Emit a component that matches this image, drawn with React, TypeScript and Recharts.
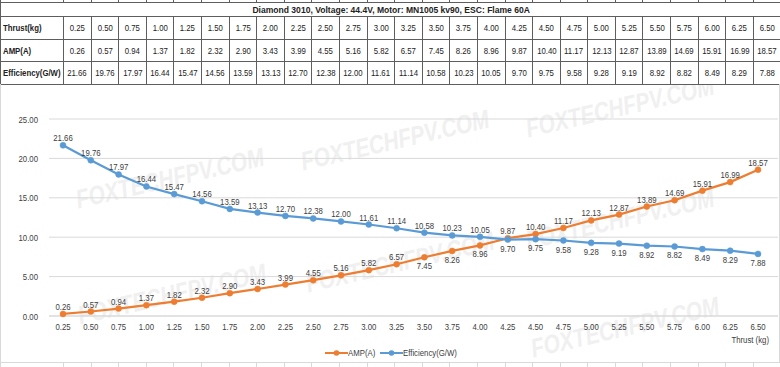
import React from 'react';
import {
  LineChart,
  Line,
  XAxis,
  YAxis,
  CartesianGrid,
  Legend,
  LabelList,
  Label,
} from 'recharts';

const TITLE = 'Diamond 3010, Voltage: 44.4V,  Motor: MN1005 kv90, ESC: Flame 60A';
const THRUST = ['0.25', '0.50', '0.75', '1.00', '1.25', '1.50', '1.75', '2.00', '2.25', '2.50', '2.75', '3.00', '3.25', '3.50', '3.75', '4.00', '4.25', '4.50', '4.75', '5.00', '5.25', '5.50', '5.75', '6.00', '6.25', '6.50'];
const AMP = [0.26, 0.57, 0.94, 1.37, 1.82, 2.32, 2.9, 3.43, 3.99, 4.55, 5.16, 5.82, 6.57, 7.45, 8.26, 8.96, 9.87, 10.4, 11.17, 12.13, 12.87, 13.89, 14.69, 15.91, 16.99, 18.57];
const EFFICIENCY = [21.66, 19.76, 17.97, 16.44, 15.47, 14.56, 13.59, 13.13, 12.7, 12.38, 12.0, 11.61, 11.14, 10.58, 10.23, 10.05, 9.7, 9.75, 9.58, 9.28, 9.19, 8.92, 8.82, 8.49, 8.29, 7.88];
const Y_TICKS = [0, 5, 10, 15, 20, 25];
const WATERMARK = 'FOXTECHFPV.COM';

// labels Excel pushed under the marker
const AMP_BELOW = [13, 14, 15];
const EFF_BELOW_FROM = 16;

const ORANGE = '#ed7d31';
const BLUE = '#5b9bd5';
const GRID = '#d9d9d9';
const TEXT = '#404040';
const BORDER = '#5e5e5e';
const FONT = "'Liberation Sans', Arial, sans-serif";
const SQUEEZE = 0.82; // the reference is horizontally squashed

// watermark centres, page px
const MARKS = [
  [170, 178],
  [395, 140],
  [620, 107],
  [172, 294],
  [400, 262],
  [620, 219],
  [625, 327],
];

const rows = THRUST.map((t, i) => ({ thrust: t, amp: AMP[i], eff: EFFICIENCY[i] }));

const NarrowText = ({ x, y, anchor, children, size = 9.5 }: any) => (
  <text
    transform={`translate(${x},${y}) scale(${SQUEEZE},1)`}
    textAnchor={anchor}
    fontSize={size}
    fontFamily={FONT}
    fill={TEXT}
  >
    {children}
  </text>
);

const makeLabel = (below: (i: number) => boolean) => (props: any) => {
  const { x, y, value, index } = props;
  return (
    <NarrowText x={x} y={below(index) ? y + 12 : y - 4} anchor="middle">
      {Number(value).toFixed(2)}
    </NarrowText>
  );
};

const XTick = (props: any) => {
  const { x, y, payload } = props;
  return (
    <NarrowText x={x} y={y + 6} anchor="middle">
      {payload.value}
    </NarrowText>
  );
};

const YTick = (props: any) => {
  const { x, y, payload } = props;
  return (
    <NarrowText x={x - 3} y={y + 3.5} anchor="end">
      {Number(payload.value).toFixed(2)}
    </NarrowText>
  );
};

const LegendContent = () => {
  const items = [
    { name: 'AMP(A)', color: ORANGE },
    { name: 'Efficiency(G/W)', color: BLUE },
  ];
  return (
    <div style={{ display: 'flex', justifyContent: 'center', gap: 4, paddingTop: 5, paddingLeft: 2, fontFamily: FONT, fontSize: 9.5, color: TEXT }}>
      {items.map((it) => (
        <span key={it.name} style={{ display: 'flex', alignItems: 'center' }}>
          <svg width={23} height={8}>
            <line x1={0} y1={4} x2={23} y2={4} stroke={it.color} strokeWidth={2} />
            <circle cx={11.5} cy={4} r={2.8} fill={it.color} />
          </svg>
          <span style={{ display: 'inline-block', transform: `scaleX(${SQUEEZE})`, transformOrigin: 'left center', marginRight: -it.name.length * 0.9 }}>
            {it.name}
          </span>
        </span>
      ))}
    </div>
  );
};

const Narrow = ({ children, origin = 'center', scale = SQUEEZE }: any) => (
  <span style={{ display: 'inline-block', transform: `scaleX(${scale})`, transformOrigin: `${origin} center`, whiteSpace: 'nowrap' }}>
    {children}
  </span>
);

const cell: React.CSSProperties = {
  border: `1px solid ${BORDER}`,
  padding: 0,
  textAlign: 'center',
  overflow: 'hidden',
  whiteSpace: 'nowrap',
};
const head: React.CSSProperties = { ...cell, textAlign: 'left', fontWeight: 'bold', paddingLeft: 2 };

const tableRows: [string, string[]][] = [
  ['Thrust(kg)', THRUST],
  ['AMP(A)', AMP.map((v) => v.toFixed(2))],
  ['Efficiency(G/W)', EFFICIENCY.map((v) => v.toFixed(2))],
];

export default function App() {
  return (
    <div style={{ position: 'relative', width: 780, height: 367, overflow: 'hidden', background: '#fff', fontFamily: FONT }}>
      <style>{'body{margin:0}'}</style>

      {MARKS.map(([cx, cy], i) => (
        <div
          key={i}
          style={{
            position: 'absolute',
            left: cx - 140,
            top: cy - 14,
            width: 280,
            textAlign: 'center',
            fontSize: 26,
            lineHeight: '28px',
            fontWeight: 'bold',
            fontStyle: 'italic',
            color: '#f0f0f0',
            transform: 'rotate(-13deg) scaleX(0.8)',
            whiteSpace: 'nowrap',
          }}
        >
          {WATERMARK}
        </div>
      ))}

      <table
        style={{
          borderCollapse: 'collapse',
          tableLayout: 'fixed',
          width: 781,
          fontSize: 9.5,
          color: '#222',
          position: 'absolute',
          top: -1,
          left: 0,
          background: '#fff',
        }}
      >
        <colgroup>
          <col style={{ width: 63 }} />
          {THRUST.map((t) => (
            <col key={t} style={{ width: 27.6 }} />
          ))}
        </colgroup>
        <tbody>
          <tr style={{ height: 3 }}>
            <td style={cell} />
            {THRUST.map((t) => (
              <td key={t} style={cell} />
            ))}
          </tr>
          <tr style={{ height: 14 }}>
            <td colSpan={27} style={{ ...cell, fontWeight: 'bold', fontSize: 9.5 }}>
              <Narrow scale={0.9}>{TITLE}</Narrow>
            </td>
          </tr>
          {tableRows.map(([name, vals]) => (
            <tr key={name} style={{ height: 22.5 }}>
              <td style={head}>
                <Narrow origin="left">{name}</Narrow>
              </td>
              {vals.map((v, i) => (
                <td key={i} style={cell}>
                  <Narrow>{v}</Narrow>
                </td>
              ))}
            </tr>
          ))}
        </tbody>
      </table>

      <div
        style={{
          position: 'absolute',
          top: 84,
          left: 0,
          width: 778,
          height: 278,
          borderLeft: `1px solid ${GRID}`,
          borderRight: `1px solid ${GRID}`,
          borderBottom: `1px solid ${BORDER}`,
        }}
      >
        <LineChart width={778} height={278} data={rows} margin={{ top: 35, right: 1, bottom: 0, left: 0 }}>
          <CartesianGrid vertical={false} stroke={GRID} />
          <XAxis
            dataKey="thrust"
            interval={0}
            tickLine={false}
            axisLine={{ stroke: GRID }}
            padding={{ left: 14, right: 20 }}
            tick={<XTick />}
            height={26}
          >
            <Label
              position="insideBottomRight"
              offset={0}
              content={(p: any) => (
                <NarrowText x={p.viewBox.x + p.viewBox.width - 9} y={p.viewBox.y + p.viewBox.height + 1} anchor="end">
                  Thrust (kg)
                </NarrowText>
              )}
            />
          </XAxis>
          <YAxis domain={[0, 25]} ticks={Y_TICKS} axisLine={false} tickLine={false} width={48} tick={<YTick />} />
          <Legend verticalAlign="bottom" height={20} content={<LegendContent />} />
          <Line
            dataKey="amp"
            name="AMP(A)"
            stroke={ORANGE}
            strokeWidth={2.2}
            dot={{ r: 3, fill: ORANGE, stroke: ORANGE, strokeWidth: 0.5 }}
            isAnimationActive={false}
          >
            <LabelList dataKey="amp" content={makeLabel((i) => AMP_BELOW.includes(i))} />
          </Line>
          <Line
            dataKey="eff"
            name="Efficiency(G/W)"
            stroke={BLUE}
            strokeWidth={2.2}
            dot={{ r: 3, fill: BLUE, stroke: BLUE, strokeWidth: 0.5 }}
            isAnimationActive={false}
          >
            <LabelList dataKey="eff" content={makeLabel((i) => i >= EFF_BELOW_FROM)} />
          </Line>
        </LineChart>
      </div>

      <table
        style={{ borderCollapse: 'collapse', tableLayout: 'fixed', width: 781, position: 'absolute', top: 362, left: 0 }}
      >
        <colgroup>
          <col style={{ width: 63 }} />
          {THRUST.map((t) => (
            <col key={t} style={{ width: 27.6 }} />
          ))}
        </colgroup>
        <tbody>
          <tr style={{ height: 10 }}>
            <td style={{ ...cell, borderColor: GRID }} />
            {THRUST.map((t) => (
              <td key={t} style={{ ...cell, borderColor: GRID }} />
            ))}
          </tr>
        </tbody>
      </table>
    </div>
  );
}
